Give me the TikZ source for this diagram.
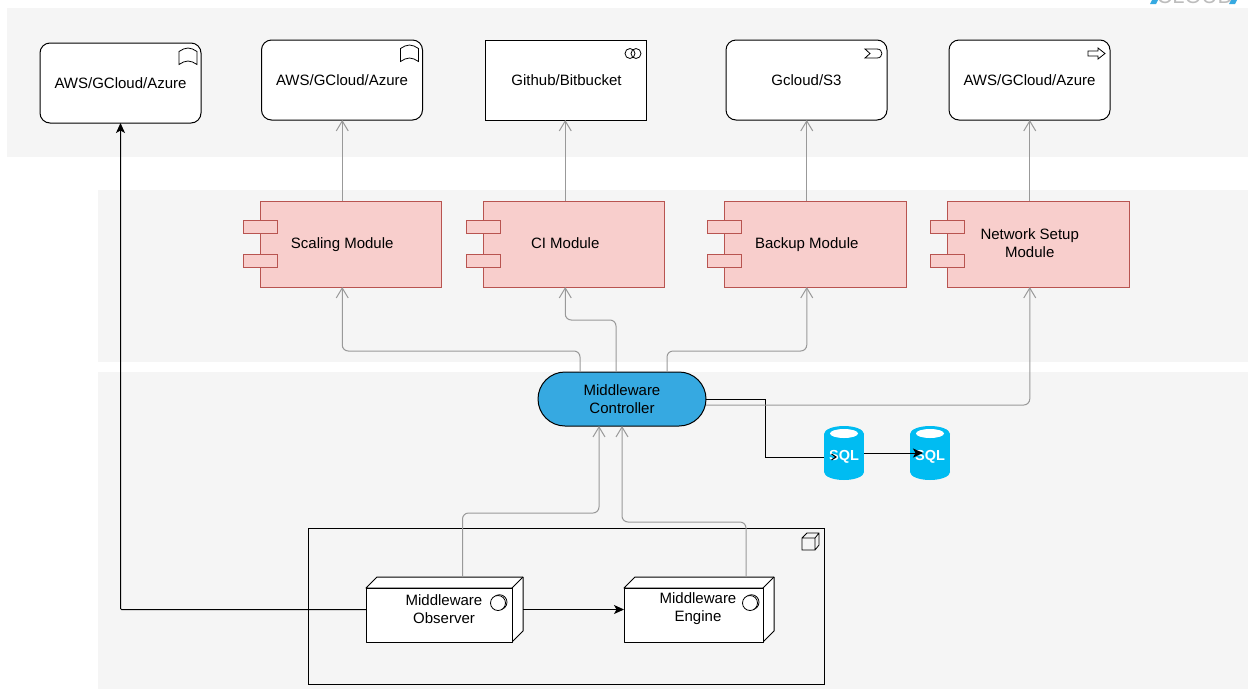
\documentclass[tikz,border=0pt]{standalone}
\usepackage{fontspec}
\setmainfont{Liberation Sans}
\usetikzlibrary{arrows.meta}
\definecolor{panelc}{HTML}{F5F5F5}
\definecolor{modfill}{HTML}{F8CECC}
\definecolor{moddraw}{HTML}{B85450}
\definecolor{ctrlc}{HTML}{36A9E1}
\definecolor{sqlc}{HTML}{00BCF2}
\definecolor{linkc}{HTML}{999999}
\definecolor{logoc}{HTML}{BDBDBD}
\tikzset{
  x=1pt,y=-1pt,
  every node/.style={font=\fontsize{15}{18}\selectfont,align=center,inner sep=0pt,outer sep=0pt},
  panel/.style={fill=panelc,draw=none},
  basebox/.style={draw=black,fill=white,line width=1pt,minimum width=161pt,minimum height=80pt},
  roundbox/.style={basebox,rounded corners=10pt},
  txtonly/.style={draw=none,fill=none},
  bodybox/.style={draw=moddraw,fill=modfill,line width=1pt},
  pill/.style={draw=black,fill=ctrlc,line width=1pt,minimum width=168pt,minimum height=54pt,rounded corners=27pt},
  hold/.style={draw=none,fill=none},
  oneline/.style={text height=13pt,text depth=3.6pt},
  link/.style={draw=linkc,line width=1pt,rounded corners=6pt,-{Straight Barb[length=10pt,width=12pt,line width=1pt]}},
  blacklink/.style={draw=black,line width=1pt,rounded corners=1pt,-{Stealth[length=10pt,width=9pt,inset=2.5pt]}},
  iconline/.style={draw=black,line width=.8pt,fill=none},
  face/.style={draw=black,fill=white,line width=1pt,line join=round},
}
\newcommand{\moduleat}[4][oneline]{%
  \begin{scope}[shift={(#2,0)}]
    \draw[bodybox] (17,201) rectangle (198.5,287);
    \draw[bodybox] (0,220) rectangle (34,233);
    \draw[bodybox] (0,254) rectangle (34,267);
  \end{scope}
  \node[hold,#1,minimum width=198.5pt,minimum height=86pt] (#3) at (#2+99.25,244) {#4};
}
\newcommand{\bookicon}[2]{%
  \draw[iconline,shift={(#1,#2)}] (0,3.5) .. controls (3,1.5) and (6,0) .. (9,0) .. controls (12,0) and (15,1.5) .. (18,3.5) -- (18,16.5) .. controls (15,14.5) and (12,13) .. (9,13) .. controls (6,13) and (3,14.5) .. (0,16.5) -- cycle;
}
\newcommand{\deviceicon}[2]{%
  \draw[iconline] (#1+1.5,#2-0.8) circle (7.5);
  \draw[iconline,fill=white] (#1,#2) circle (7.5);
}
\newcommand{\threed}[1]{%
  \draw[face] ([yshift=-11pt]#1.north west) -- ([xshift=11pt]#1.north west) -- (#1.north east) -- ([yshift=11pt]#1.south east) -- ([xshift=-11pt]#1.south east) -- ([xshift=-11pt,yshift=-11pt]#1.north east) -- cycle;
  \draw[face] ([yshift=-11pt]#1.north west) rectangle ([xshift=-11pt]#1.south east);
  \draw[face] ([xshift=-11pt,yshift=-11pt]#1.north east) -- (#1.north east);
}
\newcommand{\sqlcyl}[3]{%
  \fill[sqlc] (#1-20,434) rectangle (#1+20,472);
  \fill[sqlc] (#1,434) ellipse (20 and 8);
  \fill[sqlc] (#1,472) ellipse (20 and 8);
  \fill[white] (#1,433.5) ellipse (14 and 4.5);
  \node[hold,minimum width=40pt,minimum height=54pt,text=white,text height=15pt,text depth=0pt,font=\fontsize{14.5}{16}\bfseries\selectfont] (#2) at (#1,453) {#3};
}
\begin{document}
\begin{tikzpicture}
\useasboundingbox (0,0) rectangle (1248,689);
% logo
\begin{scope}
\clip (0,0) rectangle (1248,689);
\fill[ctrlc] (1150,4) -- (1153,-2) -- (1159,-2) -- (1156,4) -- cycle;
\fill[ctrlc] (1229,4) -- (1232,-2) -- (1238,-2) -- (1235,4) -- cycle;
\node[txtonly,text=logoc,font=\fontsize{22}{24}\selectfont,anchor=base] (logo) at (1195,3.5) {CLOUD};
\end{scope}
% panels
\fill[panel] (7,8) rectangle (1248,157);
\fill[panel] (98,190) rectangle (1248,362);
\fill[panel] (98,372) rectangle (1248,689);

% container
\node[draw=black,line width=1pt,minimum width=516pt,minimum height=156pt] (host) at (566,606) {};
\draw[iconline] (802,538) rectangle (815,550) (802,538) -- (807,533) -- (819,533) -- (819,545) -- (815,550) (815,538) -- (819,533);

% top row
\node[roundbox] (aws1) at (120.5,83) {AWS/GCloud/Azure};
\node[roundbox] (aws2) at (342,80) {AWS/GCloud/Azure};
\node[basebox] (git) at (565.5,80) {\hspace*{2pt}Github/Bitbucket};
\node[roundbox] (gcs) at (806.5,80) {Gcloud/S3};
\node[roundbox] (net) at (1029.5,80) {AWS/GCloud/Azure};
\bookicon{179}{48}
\bookicon{400.5}{45}
\draw[iconline] (630,53.5) circle (5) (636,53.5) circle (5);
\draw[iconline] (865,49) -- (877,49) .. controls (883.5,49) and (883.5,58) .. (877,58) -- (865,58) -- (870,53.5) -- cycle;
\draw[iconline] (1088,51) -- (1098,51) -- (1098,48) -- (1105,53.5) -- (1098,59) -- (1098,56) -- (1088,56) -- cycle;

% modules
\moduleat{243}{scal}{Scaling Module}
\moduleat{466}{ci}{CI Module}
\moduleat{707.5}{bak}{Backup Module}
\moduleat[]{930.5}{nets}{Network Setup\\Module\rule[-2pt]{0pt}{2pt}}

% controller
\node[pill] (ctrl) at (622,399) {Middleware\\Controller};

% black connector behind the database icon
\draw[draw=black,line width=1pt] (ctrl.east) -- ++(59,0) -- ++(0,58) -- (830,457);

% databases
\sqlcyl{844}{sqla}{SQL}
\sqlcyl{930}{sqlb}{SQL}
\draw[draw=black,line width=1pt] (831.5,454) -- (836,457) -- (831.5,460);

% nodes
\node[hold,minimum width=157pt,minimum height=65pt] (obs) at (444.5,609.5) {};
\node[hold,minimum width=150pt,minimum height=65pt] (eng) at (699,609.5) {};
\threed{obs}
\threed{eng}
\node[txtonly] (obst) at (444,609) {Middleware\\Observer};
\node[txtonly] (engt) at (698,609) {Middleware\\Engine};
\deviceicon{498}{603}
\deviceicon{750}{603}

% gray connectors
\draw[link] (scal.north) -- (scal.north |- aws2.south);
\draw[link] (ci.north) -- (ci.north |- git.south);
\draw[link] (bak.north) -- (bak.north |- gcs.south);
\draw[link] (nets.north) -- (nets.north |- net.south);
\draw[link] ([xshift=-42pt]ctrl.north) -- ++(0,-21) -| (scal.south);
\draw[link] ([xshift=-6pt]ctrl.north) -- ++(0,-52) -| (ci.south);
\draw[link] ([xshift=45pt]ctrl.north) -- ++(0,-21) -| (bak.south);
\draw[link] ([yshift=-6pt]ctrl.east) -| (nets.south);
\draw[link] ([xshift=18pt]obs.north) -- ++(0,-64) -| ([xshift=-23pt]ctrl.south);
\draw[link] ([xshift=47pt]eng.north) -- ++(0,-55) -| (ctrl.south);

% black connectors
\draw[blacklink] (obs.west) -| (aws1.south);
\draw[blacklink] (obs.east) -- (eng.west);
\draw[blacklink] (sqla.east) -- ([xshift=-7pt]sqlb.center);
\end{tikzpicture}
\end{document}
